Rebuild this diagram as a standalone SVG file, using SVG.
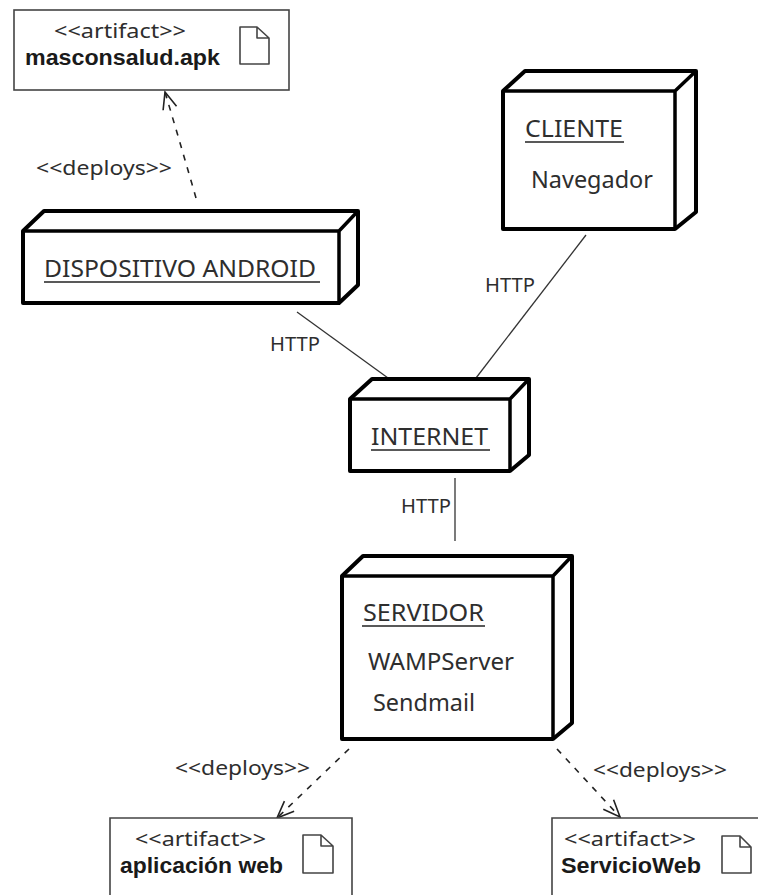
<svg xmlns="http://www.w3.org/2000/svg" width="758" height="895" viewBox="0 0 758 895">
<style>
text{font-family:"Noto Sans","DejaVu Sans",sans-serif;font-size:20px;fill:#2e2e2e}
.b{font-family:"Liberation Sans",Arial,sans-serif;font-weight:700;font-size:22px;fill:#1a1a1a}
.s{font-size:20px}
.l{font-size:23px}
.n{fill:#fff;stroke:#000;stroke-width:4;stroke-linejoin:round}
.e{fill:none;stroke:#000;stroke-width:3.5;stroke-linejoin:round}
.a{fill:#fff;stroke:#444;stroke-width:1.6}
.i{fill:#fff;stroke:#444;stroke-width:1.6;stroke-linejoin:round}
.u{stroke:#222;stroke-width:1.5}
.c{fill:none;stroke:#333;stroke-width:1.3}
.d{stroke:#222;stroke-width:1.6;stroke-dasharray:6 7}
</style>
<defs>
<marker id="open" markerUnits="userSpaceOnUse" markerWidth="24" markerHeight="24" refX="19" refY="12" orient="auto">
<path d="M2 5L19 12L2 19" fill="none" stroke="#222" stroke-width="1.6"/>
</marker>
</defs>
<g id="connectors">
<line class="c" x1="297" y1="312" x2="388" y2="378"/>
<line class="c" x1="586" y1="235" x2="476" y2="378"/>
<line class="c" x1="455" y1="478" x2="455" y2="541"/>
<path class="c d" d="M196 198L192 184L178 136L165 92" marker-end="url(#open)"/>
<line class="c d" x1="349" y1="749" x2="277" y2="818" marker-end="url(#open)"/>
<line class="c d" x1="557" y1="749" x2="620" y2="817" marker-end="url(#open)"/>
<text x="270" y="351" class="s" textLength="50" lengthAdjust="spacingAndGlyphs">HTTP</text>
<text x="485" y="292" class="s" textLength="50" lengthAdjust="spacingAndGlyphs">HTTP</text>
<text x="401" y="513" class="s" textLength="50" lengthAdjust="spacingAndGlyphs">HTTP</text>
<text x="36" y="175" textLength="136" lengthAdjust="spacingAndGlyphs">&lt;&lt;deploys&gt;&gt;</text>
<text x="175" y="775" textLength="135" lengthAdjust="spacingAndGlyphs">&lt;&lt;deploys&gt;&gt;</text>
<text x="593" y="777" textLength="134" lengthAdjust="spacingAndGlyphs">&lt;&lt;deploys&gt;&gt;</text>
</g>
<g id="artifact-apk">
<rect class="a" x="14" y="10" width="275" height="80"/>
<path class="i" d="M240 27H257L269 38V64H240Z M257 27V38H269"/>
<text x="54" y="38" textLength="132" lengthAdjust="spacingAndGlyphs">&lt;&lt;artifact&gt;&gt;</text>
<text x="25" y="65" class="b" textLength="195" lengthAdjust="spacingAndGlyphs">masconsalud.apk</text>
</g>
<g id="node-android">
<path class="n" d="M23 231L44 211H358V285L339 303H23Z"/>
<path class="e" d="M23 231H339V303M339 231L358 211"/>
<text x="44" y="277" class="l" textLength="272" lengthAdjust="spacingAndGlyphs">DISPOSITIVO ANDROID</text>
<line class="u" x1="44" y1="282" x2="320" y2="282"/>
</g>
<g id="node-cliente">
<path class="n" d="M503 91L525 71H696V212L675 229H503Z"/>
<path class="e" d="M503 91H675V229M675 91L696 71"/>
<text x="525" y="137" class="l" textLength="98" lengthAdjust="spacingAndGlyphs">CLIENTE</text>
<line class="u" x1="525" y1="142" x2="624" y2="142"/>
<text x="531" y="188" class="l" textLength="122" lengthAdjust="spacingAndGlyphs">Navegador</text>
</g>
<g id="node-internet">
<path class="n" d="M350 399L372 379H529V455L510 471H350Z"/>
<path class="e" d="M350 399H510V471M510 399L529 379"/>
<text x="371" y="445" class="l" textLength="117" lengthAdjust="spacingAndGlyphs">INTERNET</text>
<line class="u" x1="371" y1="450" x2="490" y2="450"/>
</g>
<g id="node-servidor">
<path class="n" d="M342 576L363 556H572V723L553 739H342Z"/>
<path class="e" d="M342 576H553V739M553 576L572 556"/>
<text x="363" y="621" class="l" textLength="121" lengthAdjust="spacingAndGlyphs">SERVIDOR</text>
<line class="u" x1="362" y1="626" x2="485" y2="626"/>
<text x="368" y="670" class="l" textLength="146" lengthAdjust="spacingAndGlyphs">WAMPServer</text>
<text x="373" y="711" class="l" textLength="102" lengthAdjust="spacingAndGlyphs">Sendmail</text>
</g>
<g id="artifact-web">
<path class="a" d="M110 895V818H352V895" fill="none"/>
<path class="i" d="M303 835H321L333 846V873H303Z M321 835V846H333"/>
<text x="135" y="846" textLength="131" lengthAdjust="spacingAndGlyphs">&lt;&lt;artifact&gt;&gt;</text>
<text x="120" y="873" class="b" textLength="163" lengthAdjust="spacingAndGlyphs">aplicación web</text>
</g>
<g id="artifact-servicio">
<path class="a" d="M552 895V818H758" fill="none"/>
<path class="i" d="M722 836H740L751 847V873H722Z M740 836V847H751"/>
<text x="564" y="846" textLength="132" lengthAdjust="spacingAndGlyphs">&lt;&lt;artifact&gt;&gt;</text>
<text x="561" y="873" class="b" textLength="140" lengthAdjust="spacingAndGlyphs">ServicioWeb</text>
</g>
</svg>
